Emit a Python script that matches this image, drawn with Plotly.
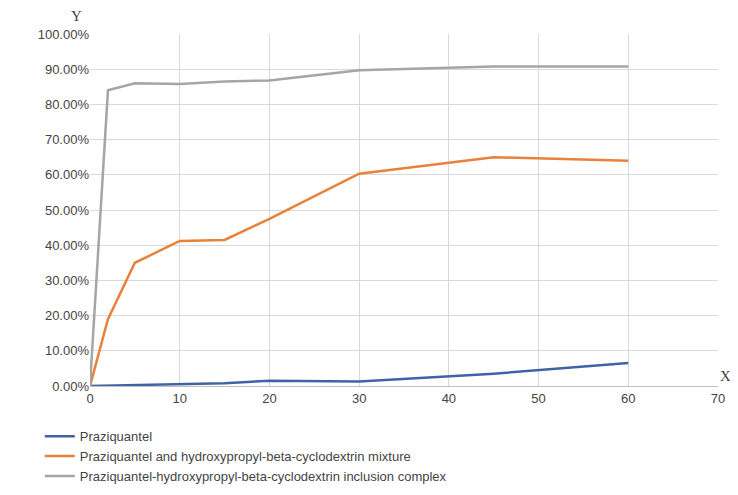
import plotly.graph_objects as go

x = [0, 2, 5, 10, 15, 20, 30, 45, 60]
pzq = [0.0, 0.001, 0.001, 0.005, 0.008, 0.015, 0.013, 0.035, 0.065]
mix = [0.0, 0.19, 0.35, 0.412, 0.415, 0.475, 0.603, 0.65, 0.64]
cplx = [0.0, 0.84, 0.86, 0.858, 0.865, 0.868, 0.897, 0.908, 0.908]
names = ["Praziquantel",
         "Praziquantel and hydroxypropyl-beta-cyclodextrin mixture",
         "Praziquantel-hydroxypropyl-beta-cyclodextrin inclusion complex"]
colors = ["#3f63a6", "#e9813a", "#a5a5a5"]

fig = go.Figure()
for ys, n, c in zip([pzq, mix, cplx], names, colors):
    fig.add_trace(go.Scatter(x=x, y=ys, name=n, mode="lines", line=dict(color=c, width=2.5)))

fig.update_layout(
    width=738, height=495, plot_bgcolor="white", paper_bgcolor="white",
    margin=dict(l=82, r=28, t=26, b=110),
    font=dict(family="Liberation Sans, Arial", size=13, color="#444"),
    xaxis=dict(range=[0, 70], dtick=10, showgrid=True, gridcolor="#d9d9d9",
               showline=True, linecolor="#bfbfbf", zeroline=False, ticks=""),
    yaxis=dict(range=[0, 1.0], dtick=0.1, tickformat=".2%", showgrid=True,
               gridcolor="#d9d9d9", zeroline=False),
    legend=dict(x=-0.08, y=-0.1, xanchor="left", yanchor="top", font=dict(size=13),
                bgcolor="rgba(0,0,0,0)"),
    annotations=[
        dict(text="Y", xref="paper", yref="paper", x=-0.01, y=1.0, xanchor="right", yanchor="bottom",
             yshift=8, showarrow=False, font=dict(size=15, family="Liberation Serif")),
        dict(text="X", xref="paper", yref="paper", x=1.0, y=0.0, xanchor="left", yanchor="bottom",
             showarrow=False, font=dict(size=15, family="Liberation Serif")),
    ],
)
fig.write_html("out.html")
